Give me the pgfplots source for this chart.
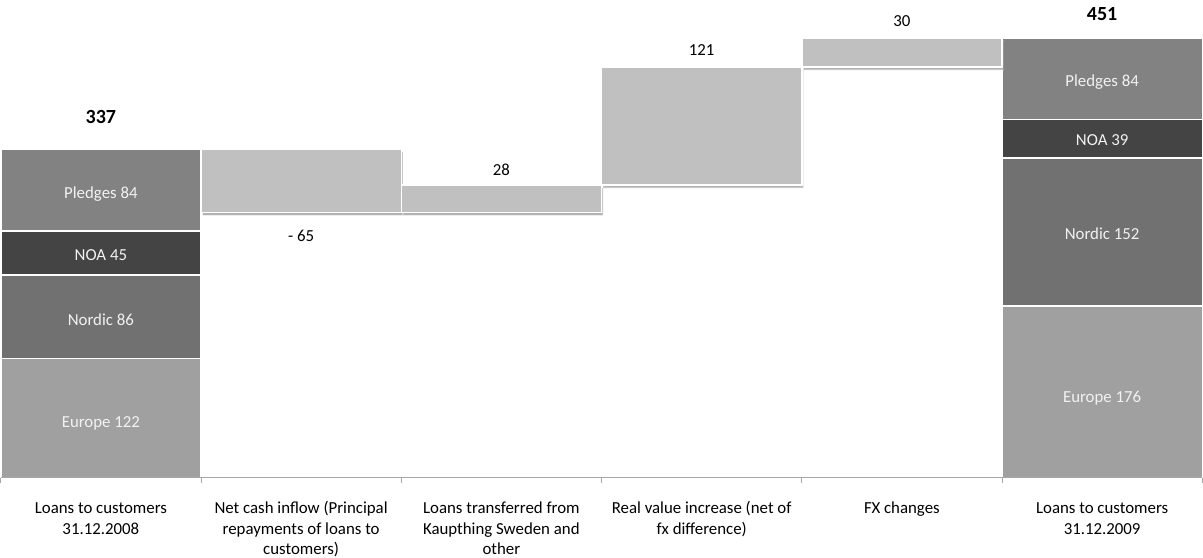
\documentclass[border=0pt]{standalone}
\usepackage{fontspec}
\setmainfont{Carlito}
\usepackage{pgfplots}
\pgfplotsset{compat=1.18}
\usetikzlibrary{shadows}

\definecolor{cEurope}{HTML}{A0A0A0}
\definecolor{cNordic}{HTML}{717171}
\definecolor{cNOA}{HTML}{444444}
\definecolor{cPledges}{HTML}{828282}
\definecolor{cStep}{HTML}{C0C0C0}
\definecolor{cAxis}{HTML}{A6A6A6}
\definecolor{cInner}{HTML}{F2F2F2}

\newcommand{\lblfont}{\fontsize{16.8}{20.7}\selectfont}
\newcommand{\totfont}{\fontsize{20}{24}\selectfont\bfseries}

\pgfplotsset{
  frame/.style={
    scale only axis, width=1199pt, height=439pt,
    xmin=0, xmax=6, ymin=0, ymax=451,
    clip=false,
  },
  segment/.style={draw=white, line width=1.5pt},
}

\begin{document}
\begin{tikzpicture}
% opening and closing balances, split by region
\begin{axis}[frame, hide axis, ybar stacked, bar width=1]
  \addplot[segment, fill=cEurope]  coordinates {(0.5,122) (5.5,176)};
  \addplot[segment, fill=cNordic]  coordinates {(0.5,86)  (5.5,152)};
  \addplot[segment, fill=cNOA]     coordinates {(0.5,45)  (5.5,39)};
  \addplot[segment, fill=cPledges] coordinates {(0.5,84)  (5.5,84)};
\end{axis}

% movements during the year, floating on an invisible base
% (the outflow of 65 hangs from 337 down to 272)
\begin{axis}[frame, hide axis, ybar stacked, bar width=1]
  \addplot[draw=none, fill=none] coordinates {(1.5,272) (2.5,272) (3.5,300) (4.5,421)};
  \addplot[segment, fill=cStep,
    drop shadow={fill=black, opacity=0.3, shadow xshift=1.5pt, shadow yshift=-3pt}]
    coordinates {(1.5,65) (2.5,28) (3.5,121) (4.5,30)};
\end{axis}

% category axis and value labels
\begin{axis}[frame,
    axis x line*=bottom, axis y line=none,
    xtick={0.5,1.5,2.5,3.5,4.5,5.5},
    xticklabels={
      {\strut Loans to customers\\31.12.2008},
      {\strut Net cash inflow (Principal\\repayments of loans to\\customers)},
      {\strut Loans transferred from\\Kaupthing Sweden and\\other},
      {\strut Real value increase (net of\\fx difference)},
      {\strut FX changes},
      {\strut Loans to customers\\31.12.2009}},
    major tick length=0pt,
    minor xtick={0,1,2,3,4,5,6}, minor tick length=5pt, tick align=outside,
    x axis line style={draw=cAxis, line width=0.8pt},
    minor tick style={draw=cAxis, line width=0.8pt},
    xticklabel style={font=\lblfont, align=center, anchor=north, inner sep=0pt, yshift=-21pt},
  ]
  % labels inside the stacked segments
  \addplot[draw=none, mark=none, nodes near coords, point meta=explicit symbolic,
    every node near coord/.append style={anchor=center, font=\lblfont, text=cInner}]
    coordinates {
      (0.5,291)[Pledges 84] (0.5,228)[NOA 45] (0.5,162)[Nordic 86] (0.5,56)[Europe 122]
      (5.5,406)[Pledges 84] (5.5,346)[NOA 39] (5.5,250)[Nordic 152] (5.5,82)[Europe 176]
    };
  % movement labels
  \addplot[draw=none, mark=none, nodes near coords, point meta=explicit symbolic,
    every node near coord/.append style={anchor=center, font=\lblfont, text=black}]
    coordinates {(1.5,248)[- 65] (2.5,316)[28] (3.5,438.5)[121] (4.5,468)[30]};
  % balance totals
  \addplot[draw=none, mark=none, nodes near coords, point meta=explicit symbolic,
    every node near coord/.append style={anchor=center, font=\totfont, text=black, inner sep=7pt}]
    coordinates {(0.5,369.4)[337] (5.5,475.8)[451]};
\end{axis}
\end{tikzpicture}
\end{document}
